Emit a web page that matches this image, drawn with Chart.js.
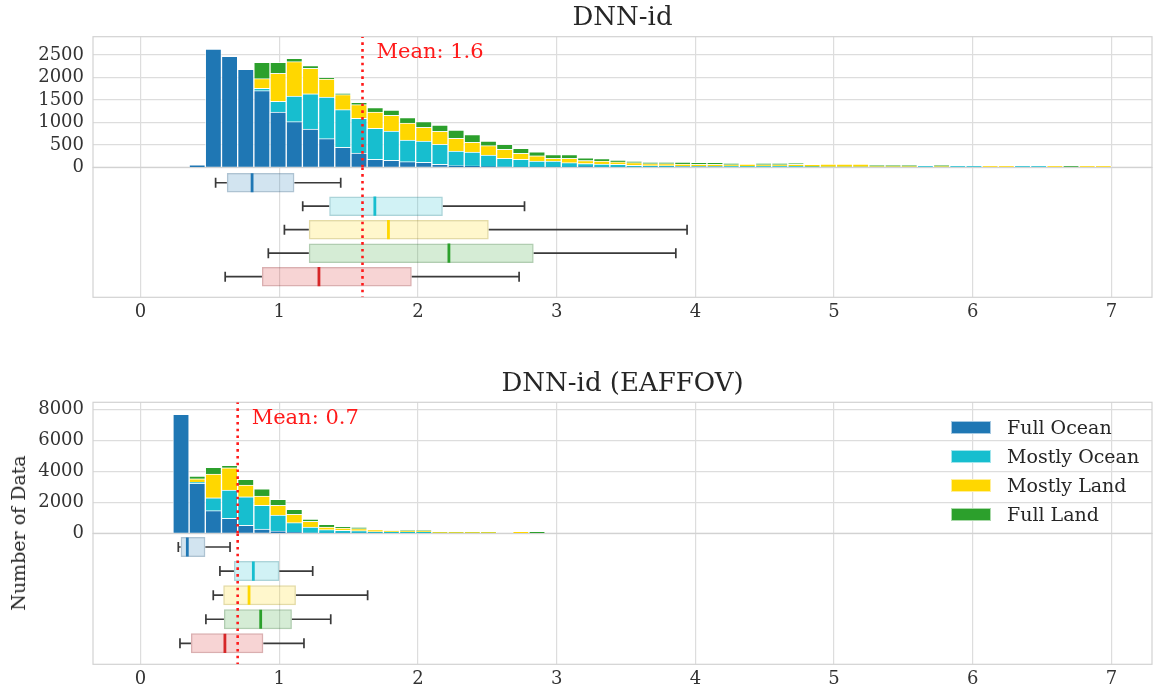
<!DOCTYPE html>
<html><head><meta charset="utf-8">
<script src="https://cdn.jsdelivr.net/npm/chart.js@4"></script>
<style>
html,body{margin:0;padding:0;background:#fff;overflow:hidden;width:1154px;height:687px;position:relative;}
canvas{position:absolute;left:0;}
#ylab{position:absolute;font-family:'DejaVu Serif';font-size:19px;color:#262626;white-space:nowrap;transform:translate(-50%,-50%) rotate(-90deg);left:18px;top:533px;}
#legend{position:absolute;left:951px;top:412.5px;font-family:'DejaVu Serif';font-size:19px;color:#262626;}
.row{height:29px;display:flex;align-items:center;}
.sw{width:40px;height:13px;margin-right:16px;box-sizing:border-box;border:1px solid rgba(255,255,255,0.6);}
</style></head>
<body>
<canvas id="h1" width="1154" height="190" style="top:0px"></canvas>
<canvas id="b1" width="1154" height="156" style="top:167px"></canvas>
<canvas id="h2" width="1154" height="190" style="top:366px"></canvas>
<canvas id="b2" width="1154" height="157" style="top:533px"></canvas>
<div id="ylab">Number of Data</div>
<div id="legend"></div>
<script>
// ---------- data ----------
const categories = ['Full Ocean', 'Mostly Ocean', 'Mostly Land', 'Full Land'];
const boxLabels = ['Full Ocean', 'Mostly Ocean', 'Mostly Land', 'Full Land', 'All'];
const boxPositions = [1, 2, 3, 4, 5];
const binCount = 60;
const binRange = [0, 7];
const xTicks = [0, 1, 2, 3, 4, 5, 6, 7];
const yTicksTop = [0, 500, 1000, 1500, 2000, 2500];
const yTicksBottom = [0, 2000, 4000, 6000, 8000];
const titleTop = 'DNN-id';
const titleBottom = 'DNN-id (EAFFOV)';
const yAxisLabel = 'Number of Data';
const meanTop = 1.6;
const meanBottom = 0.7;

// Top panel histogram counts per bin (60 bins over [0,7])
const topFullOcean = [
  0,0,0,55,2630,2470,2180,1706,1231,1015,
  853,637,445,318,178,156,125,111,67,36,
  30,15,10,8,5,5,5,15,5,5,
  3,3,3,10,12,12,0,0,0,0,
  0,0,0,0,0,0,0,0,0,0,
  0,0,0,0,0,0,0,0,0,0];
const topMostlyOcean = [
  0,0,0,0,0,0,0,52,238,572,
  785,928,837,773,690,652,483,474,445,327,
  311,259,190,170,136,136,98,69,69,62,
  42,34,34,12,10,10,22,20,22,22,
  22,15,10,10,10,10,10,10,22,10,
  22,22,0,0,22,22,0,0,0,0];
const topMostlyLand = [
  0,0,0,0,0,0,0,215,623,764,
  566,401,334,303,363,350,378,305,289,283,
  216,207,201,134,117,59,97,67,67,52,
  58,44,44,50,45,45,37,54,37,37,
  45,49,64,64,64,25,25,25,0,25,
  0,0,22,22,0,0,22,0,22,22];
const topFullLand = [
  0,0,0,0,0,0,0,364,245,75,
  58,29,31,53,96,118,118,125,141,184,
  170,105,111,111,89,81,81,59,51,37,
  31,30,30,39,44,44,30,0,30,30,
  22,0,0,0,0,10,10,10,0,10,
  0,0,0,0,0,0,0,22,0,0];

// Bottom panel histogram counts per bin
const botFullOcean = [
  0,0,7680,3225,1458,967,516,277,150,65,
  30,15,10,10,10,0,0,0,0,0,
  0,0,0,0,0,0,0,0,0,0,
  0,0,0,0,0,0,0,0,0,0,
  0,0,0,0,0,0,0,0,0,0,
  0,0,0,0,0,0,0,0,0,0];
const botMostlyOcean = [
  0,0,0,85,838,1826,1845,1529,1030,619,
  376,217,184,158,93,80,80,80,20,20,
  20,20,0,0,0,0,0,0,0,0,
  0,0,0,0,0,0,0,0,0,0,
  0,0,0,0,0,0,0,0,0,0,
  0,0,0,0,0,0,0,0,0,0];
const botMostlyLand = [
  0,0,0,210,1529,1438,754,600,626,541,
  368,174,148,129,129,60,70,70,70,70,
  70,70,0,100,0,0,0,0,0,0,
  0,0,0,0,0,0,0,0,0,0,
  0,0,0,0,0,0,0,0,0,0,
  0,0,0,0,0,0,0,0,0,0];
const botFullLand = [
  0,0,0,175,432,155,368,471,387,323,
  148,174,84,90,0,10,18,18,0,0,
  0,0,0,0,100,0,0,0,0,0,
  0,0,0,0,0,0,0,0,0,0,
  0,0,0,0,0,0,0,0,0,0,
  0,0,0,0,0,0,0,0,0,0];

// Box plot stats: [whiskerLow, q1, median, q3, whiskerHigh]
const topBoxFullOcean   = [0.541, 0.622, 0.804, 1.109, 1.443];
const topBoxMostlyOcean = [1.169, 1.360, 1.689, 2.179, 2.768];
const topBoxMostlyLand  = [1.037, 1.213, 1.787, 2.510, 3.940];
const topBoxFullLand    = [0.921, 1.213, 2.223, 2.834, 3.859];
const topBoxAll         = [0.610, 0.875, 1.286, 1.955, 2.729];
const botBoxFullOcean   = [0.272, 0.289, 0.337, 0.467, 0.645];
const botBoxMostlyOcean = [0.572, 0.673, 0.813, 1.000, 1.241];
const botBoxMostlyLand  = [0.524, 0.596, 0.782, 1.120, 1.637];
const botBoxFullLand    = [0.471, 0.601, 0.866, 1.091, 1.371];
const botBoxAll         = [0.284, 0.363, 0.608, 0.885, 1.178];

// ---------- styles ----------
const histColors = ['#1f77b4', '#17becf', '#ffd700', '#2ca02c'];
const boxRGB = [[31,119,180],[23,190,207],[255,215,0],[44,160,44],[214,39,40]];
const FONT = 'DejaVu Serif';
const TXT = '#333333';
const GRID = '#dddddd';
const X_MIN = -0.343, X_MAX = 7.292;

Chart.defaults.font.family = FONT;
Chart.defaults.color = TXT;

const binW = (binRange[1] - binRange[0]) / binCount;
const binCenters = Array.from({length: binCount}, (_, i) => binRange[0] + (i + 0.5) * binW);

const framePlugin = {
  id: 'frame',
  beforeDatasetsDraw(chart) {
    const {ctx, chartArea: a} = chart;
    ctx.save();
    ctx.strokeStyle = '#d2d2d2';
    ctx.lineWidth = 1.2;
    ctx.strokeRect(a.left, a.top, a.right - a.left, a.bottom - a.top);
    ctx.restore();
  }
};
const meanLabelPlugin = {
  id: 'meanLabel',
  afterDatasetsDraw(chart, args, opts) {
    if (opts.value == null) return;
    const {ctx, chartArea: a, scales} = chart;
    ctx.save();
    ctx.fillStyle = '#ff1a1a';
    ctx.font = '21px "' + FONT + '"';
    ctx.textBaseline = 'middle';
    ctx.textAlign = 'left';
    ctx.fillText('Mean: ' + opts.value.toFixed(1), scales.x.getPixelForValue(opts.value) + 14, a.top + 16);
    ctx.restore();
  }
};

function histChart(id, title, series, mean, yMax, yTicks, titlePadBottom) {
  const datasets = [{
    type: 'line', label: 'mean', stack: 'mean',
    data: [{x: mean, y: 0}, {x: mean, y: yMax}],
    borderColor: '#ff1a1a', borderWidth: 2.6, borderDash: [2.6, 4.2],
    pointRadius: 0, order: 0
  }];
  series.forEach((vals, k) => {
    datasets.push({
      type: 'bar', label: categories[k],
      data: vals.map((v, i) => ({x: binCenters[i], y: v})),
      backgroundColor: histColors[k],
      borderColor: 'rgba(255,255,255,0.65)', borderWidth: 1,
      barPercentage: 1, categoryPercentage: 1, order: 1 + k
    });
  });
  return new Chart(document.getElementById(id), {
    type: 'bar',
    data: {datasets},
    plugins: [framePlugin, meanLabelPlugin],
    options: {
      responsive: false, animation: false,
      layout: {autoPadding: false, padding: {left: 0, right: 2, top: 0, bottom: 22.7}},
      plugins: {
        legend: {display: false}, tooltip: {enabled: false},
        title: {display: true, text: title, color: '#262626', fullSize: false,
          font: {family: FONT, size: 26, weight: 'normal'},
          padding: {top: 2.6, bottom: titlePadBottom}},
        meanLabel: {value: mean}
      },
      scales: {
        x: {type: 'linear', min: X_MIN, max: X_MAX, stacked: true, offset: false,
          afterBuildTicks: s => { s.ticks = xTicks.map(v => ({value: v})); },
          ticks: {display: false},
          grid: {color: GRID, lineWidth: 1.2, drawTicks: false, offset: false},
          border: {display: false},
          afterFit: s => { s.height = 0; s.paddingLeft = 0; s.paddingRight = 0; }},
        y: {type: 'linear', min: 0, max: yMax, stacked: true, offset: false,
          afterBuildTicks: s => { s.ticks = yTicks.map(v => ({value: v})); },
          ticks: {padding: 9, font: {size: 18}, color: TXT, callback: v => String(v)},
          grid: {color: GRID, lineWidth: 1.2, drawTicks: false, offset: false},
          border: {display: false},
          afterFit: s => { s.width = 93; s.paddingTop = 0; s.paddingBottom = 0; }}
      }
    }
  });
}

function boxChart(id, stats, mean, yMin, yMax) {
  const fills = boxRGB.map(c => `rgba(${c[0]},${c[1]},${c[2]},0.2)`);
  const edges = boxRGB.map(c => `rgba(${Math.round(c[0]*0.7)},${Math.round(c[1]*0.7)},${Math.round(c[2]*0.7)},0.35)`);
  const mids = boxRGB.map(c => `rgb(${c[0]},${c[1]},${c[2]})`);
  const whiskers = [];
  const caps = [];
  stats.forEach((s, i) => {
    const p = boxPositions[i];
    whiskers.push({x: s[0], y: p}, {x: s[1], y: p}, {x: null, y: null},
                  {x: s[3], y: p}, {x: s[4], y: p}, {x: null, y: null});
    caps.push({x: s[0], y: p}, {x: s[4], y: p});
  });
  const datasets = [
    {type: 'line', label: 'mean', data: [{x: mean, y: yMin}, {x: mean, y: yMax}],
     borderColor: '#ff1a1a', borderWidth: 2.6, borderDash: [2.6, 4.2], pointRadius: 0, order: 0},
    {type: 'line', label: 'median', showLine: false,
     data: stats.map((s, i) => ({x: s[2], y: boxPositions[i]})),
     pointStyle: 'line', pointRotation: 90, pointRadius: 9.6, pointBorderWidth: 2.8,
     pointBorderColor: mids, pointBackgroundColor: mids, order: 1},
    {type: 'bar', label: 'box', indexAxis: 'y',
     data: stats.map((s, i) => ({x: [s[1], s[3]], y: boxPositions[i]})),
     backgroundColor: fills, borderColor: edges, borderWidth: 1.5, borderSkipped: false,
     barPercentage: 0.83, categoryPercentage: 1, order: 2},
    {type: 'line', label: 'whisker', data: whiskers, spanGaps: false,
     borderColor: '#3a3a3a', borderWidth: 1.7, pointRadius: 0, order: 3},
    {type: 'line', label: 'cap', showLine: false, data: caps,
     pointStyle: 'line', pointRotation: 90, pointRadius: 5, pointBorderWidth: 1.7,
     pointBorderColor: '#3a3a3a', order: 4}
  ];
  return new Chart(document.getElementById(id), {
    type: 'bar',
    data: {datasets},
    plugins: [framePlugin],
    options: {
      responsive: false, animation: false,
      layout: {autoPadding: false, padding: {left: 93, right: 2, top: 0.3, bottom: 0}},
      plugins: {legend: {display: false}, tooltip: {enabled: false}, title: {display: false}},
      scales: {
        x: {type: 'linear', min: X_MIN, max: X_MAX, offset: false,
          afterBuildTicks: s => { s.ticks = xTicks.map(v => ({value: v})); },
          ticks: {padding: 4, font: {size: 18}, color: TXT},
          grid: {color: GRID, lineWidth: 1.2, drawTicks: false, offset: false},
          border: {display: false},
          afterFit: s => { s.height = 25.7; s.paddingLeft = 0; s.paddingRight = 0; }},
        y: {type: 'linear', min: yMin, max: yMax, reverse: true, offset: false, display: false,
          afterBuildTicks: s => { s.ticks = boxPositions.map(v => ({value: v})); },
          grid: {display: false, offset: false}}
      }
    }
  });
}

histChart('h1', titleTop, [topFullOcean, topMostlyOcean, topMostlyLand, topFullLand], meanTop, 2907, yTicksTop, 2.9);
boxChart('b1', [topBoxFullOcean, topBoxMostlyOcean, topBoxMostlyLand, topBoxFullLand, topBoxAll], meanTop, 0.342, 5.88);
histChart('h2', titleBottom, [botFullOcean, botMostlyOcean, botMostlyLand, botFullLand], meanBottom, 8452, yTicksBottom, 2.5);
boxChart('b2', [botBoxFullOcean, botBoxMostlyOcean, botBoxMostlyLand, botBoxFullLand, botBoxAll], meanBottom, 0.431, 5.87);

// legend
const lg = document.getElementById('legend');
categories.forEach((c, k) => {
  const row = document.createElement('div');
  row.className = 'row';
  const sw = document.createElement('div');
  sw.className = 'sw';
  sw.style.background = histColors[k];
  const tx = document.createElement('span');
  tx.textContent = c;
  row.appendChild(sw); row.appendChild(tx);
  lg.appendChild(row);
});
document.getElementById('ylab').textContent = yAxisLabel;
</script>
</body></html>
